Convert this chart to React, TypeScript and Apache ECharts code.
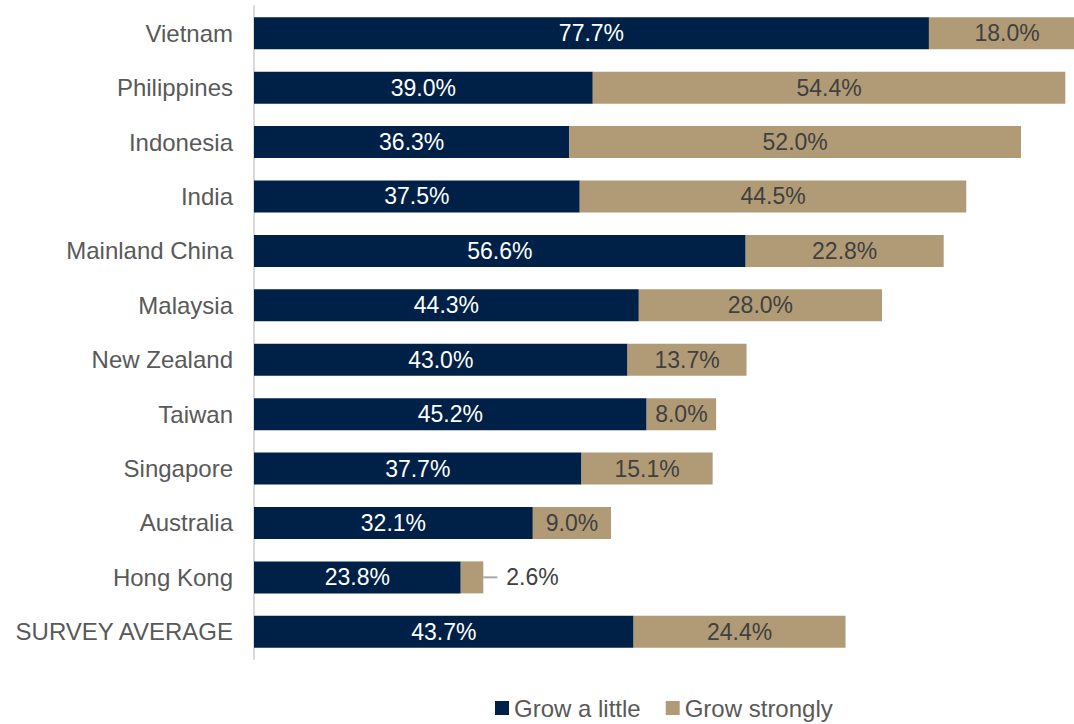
import React, { useEffect, useRef } from "react";
import * as echarts from "echarts";

const categories = [
  "Vietnam",
  "Philippines",
  "Indonesia",
  "India",
  "Mainland China",
  "Malaysia",
  "New Zealand",
  "Taiwan",
  "Singapore",
  "Australia",
  "Hong Kong",
  "SURVEY AVERAGE",
];
const growLittle = [77.7, 39.0, 36.3, 37.5, 56.6, 44.3, 43.0, 45.2, 37.7, 32.1, 23.8, 43.7];
const growStrongly = [18.0, 54.4, 52.0, 44.5, 22.8, 28.0, 13.7, 8.0, 15.1, 9.0, 2.6, 24.4];
const seriesNames = ["Grow a little", "Grow strongly"];

const FONT = "'Liberation Sans', Arial, sans-serif";

export default function App() {
  const ref = useRef<HTMLDivElement>(null);
  useEffect(() => {
    if (!ref.current) return;
    const chart = echarts.init(ref.current, null, { renderer: "svg" });
    const fmt = (p: any) => Number(p.value).toFixed(1) + "%";
    chart.setOption({
      animation: false,
      textStyle: { fontFamily: FONT },
      grid: { left: 254, top: 6, right: 0, height: 653, containLabel: false },
      legend: {
        data: seriesNames,
        top: 696,
        left: 495,
        padding: 0,
        itemWidth: 14,
        itemHeight: 14,
        itemGap: 25,
        icon: "rect",
        textStyle: { fontSize: 24, color: "#595959", fontFamily: FONT },
      },
      xAxis: {
        type: "value",
        min: 0,
        max: 94.4,
        show: false,
      },
      yAxis: {
        type: "category",
        data: categories,
        inverse: true,
        axisLine: { show: true, lineStyle: { color: "#d9d9d9", width: 2 } },
        axisTick: { show: false },
        axisLabel: { fontSize: 24, color: "#595959", margin: 21, fontFamily: FONT },
      },
      series: [
        {
          name: seriesNames[0],
          type: "bar",
          stack: "total",
          barWidth: 32,
          clip: false,
          itemStyle: { color: "#002147" },
          label: {
            show: true,
            position: "inside",
            color: "#ffffff",
            fontSize: 23,
            fontFamily: FONT,
            formatter: fmt,
          },
          data: growLittle,
        },
        {
          name: seriesNames[1],
          type: "bar",
          stack: "total",
          barWidth: 32,
          clip: false,
          itemStyle: { color: "#b09b76" },
          label: {
            show: true,
            position: "inside",
            color: "#404040",
            fontSize: 23,
            fontFamily: FONT,
            formatter: fmt,
          },
          data: growStrongly.map((v, i) =>
            categories[i] === "Hong Kong"
              ? {
                  value: v,
                  label: {
                    position: "right",
                    distance: 0,
                    formatter: (p: any) => "{l|}{t|" + Number(p.value).toFixed(1) + "%}",
                    rich: {
                      l: { width: 14, height: 2, backgroundColor: "#a6a6a6" },
                      t: { fontSize: 23, color: "#404040", padding: [0, 0, 0, 9], fontFamily: FONT },
                    },
                  },
                }
              : v
          ),
        },
      ],
    });
    return () => chart.dispose();
  }, []);
  return (
    <div
      ref={ref}
      style={{ position: "absolute", left: 0, top: 0, width: 1074, height: 724 }}
    />
  );
}
